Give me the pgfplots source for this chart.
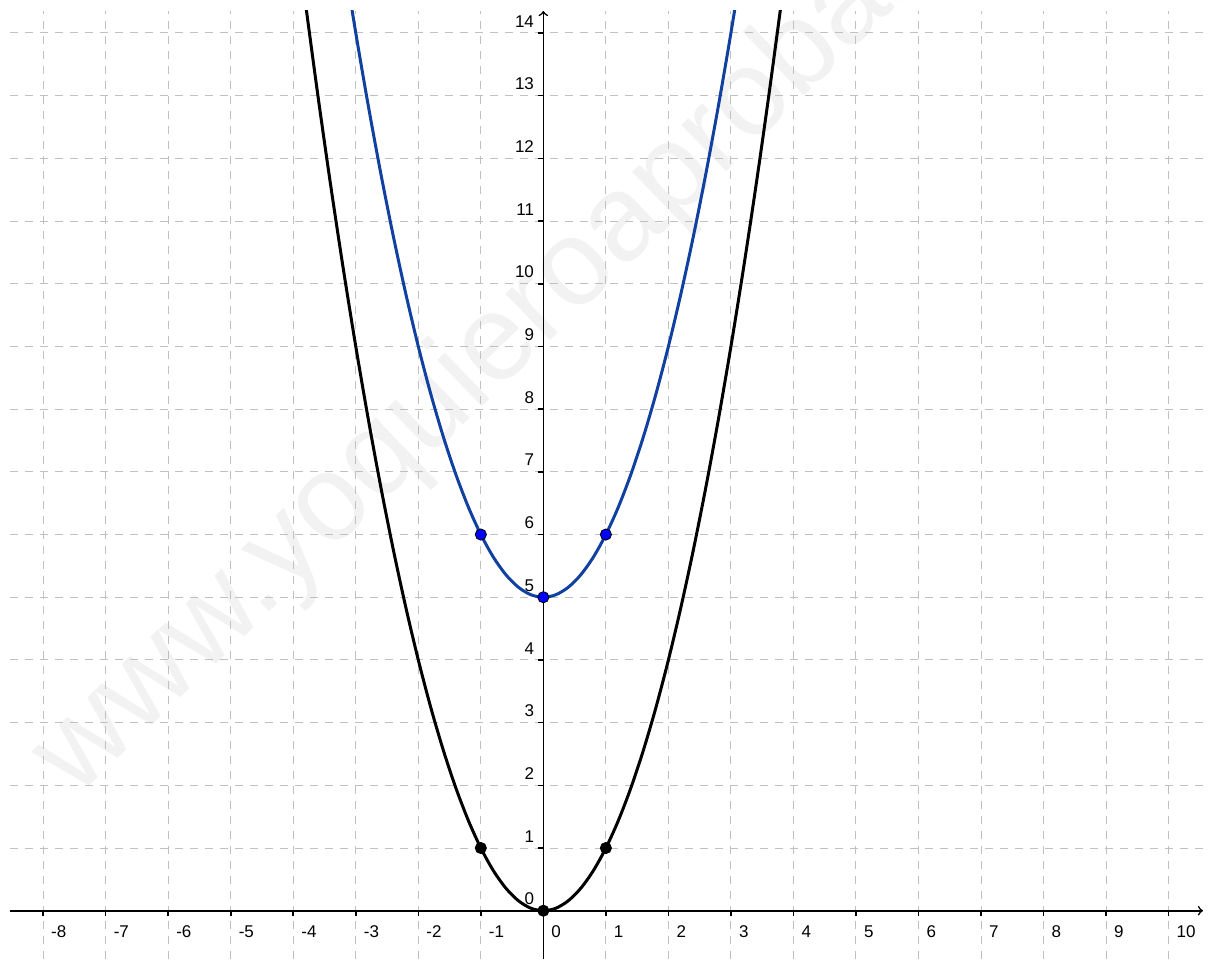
\documentclass[border=0pt]{standalone}
\usepackage{fontspec}
\setmainfont{Liberation Sans}
\usepackage{pgfplots}
\pgfplotsset{compat=1.18}
\definecolor{curveblue}{RGB}{16,64,160}
\definecolor{gridgray}{RGB}{192,192,192}
\definecolor{wmgray}{RGB}{242,242,242}
\begin{document}
\begin{tikzpicture}
\useasboundingbox (-5pt,0pt) rectangle (599.5pt,479.5pt);
\node[anchor=base west, rotate=44, text=wmgray, inner sep=0pt,
      font=\fontsize{61}{61}\selectfont] at (33pt,80pt) {www.yoquieroaprobar.es};
\begin{axis}[
  at={(0pt,0pt)}, anchor=south west,
  scale only axis, width=596.5pt, height=474pt,
  xmin=-8.53, xmax=10.55, ymin=-0.77, ymax=14.35,
  axis lines=middle,
  axis line style={line width=0.8pt, ->},
  xtick={-8,...,10}, ytick={0,...,14},
  hide obscured x ticks=false, hide obscured y ticks=false,
  tick align=outside, major tick length=2.8pt,
  tick style={black, line width=0.8pt},
  grid=major,
  major grid style={gridgray, line width=0.5pt, dash pattern=on 4pt off 3.5pt},
  /pgf/number format/assume math mode=true,
  ticklabel style={font=\fontsize{8.5}{10}\selectfont, inner sep=0pt},
  xticklabel style={anchor=north west, xshift=3.85pt, yshift=-4.3pt},
  yticklabel style={anchor=south east, xshift=-1.7pt, yshift=2.75pt},
  clip=true,
]
\addplot[black, line width=1.5pt, smooth] coordinates {
(-3.9,15.21) (-3.8,14.44) (-3.6,12.96) (-3.4,11.56) (-3.2,10.24) (-3.0,9) (-2.8,7.84) (-2.6,6.76) (-2.4,5.76) (-2.2,4.84) (-2.0,4) (-1.8,3.24) (-1.6,2.56) (-1.4,1.96) (-1.2,1.44) (-1.0,1) (-0.8,0.64) (-0.6,0.36) (-0.4,0.16) (-0.2,0.04) (0,0) (0.2,0.04) (0.4,0.16) (0.6,0.36) (0.8,0.64) (1,1) (1.2,1.44) (1.4,1.96) (1.6,2.56) (1.8,3.24) (2,4) (2.2,4.84) (2.4,5.76) (2.6,6.76) (2.8,7.84) (3,9) (3.2,10.24) (3.4,11.56) (3.6,12.96) (3.8,14.44) (3.9,15.21)
};
\addplot[curveblue, line width=1.5pt, smooth] coordinates {
(-3.2,15.24) (-3.0,14) (-2.8,12.84) (-2.6,11.76) (-2.4,10.76) (-2.2,9.84) (-2.0,9) (-1.8,8.24) (-1.6,7.56) (-1.4,6.96) (-1.2,6.44) (-1.0,6) (-0.8,5.64) (-0.6,5.36) (-0.4,5.16) (-0.2,5.04) (0,5) (0.2,5.04) (0.4,5.16) (0.6,5.36) (0.8,5.64) (1.0,6) (1.2,6.44) (1.4,6.96) (1.6,7.56) (1.8,8.24) (2.0,9) (2.2,9.84) (2.4,10.76) (2.6,11.76) (2.8,12.84) (3.0,14) (3.2,15.24)
};
\addplot[only marks, mark=*, mark size=2.8pt, mark options={fill=black, draw=black, line width=0.4pt}] coordinates {(-1,1) (0,0) (1,1)};
\addplot[only marks, mark=*, mark size=2.8pt, mark options={fill=blue, draw=black, line width=0.4pt}] coordinates {(-1,6) (0,5) (1,6)};
\end{axis}
\end{tikzpicture}
\end{document}
